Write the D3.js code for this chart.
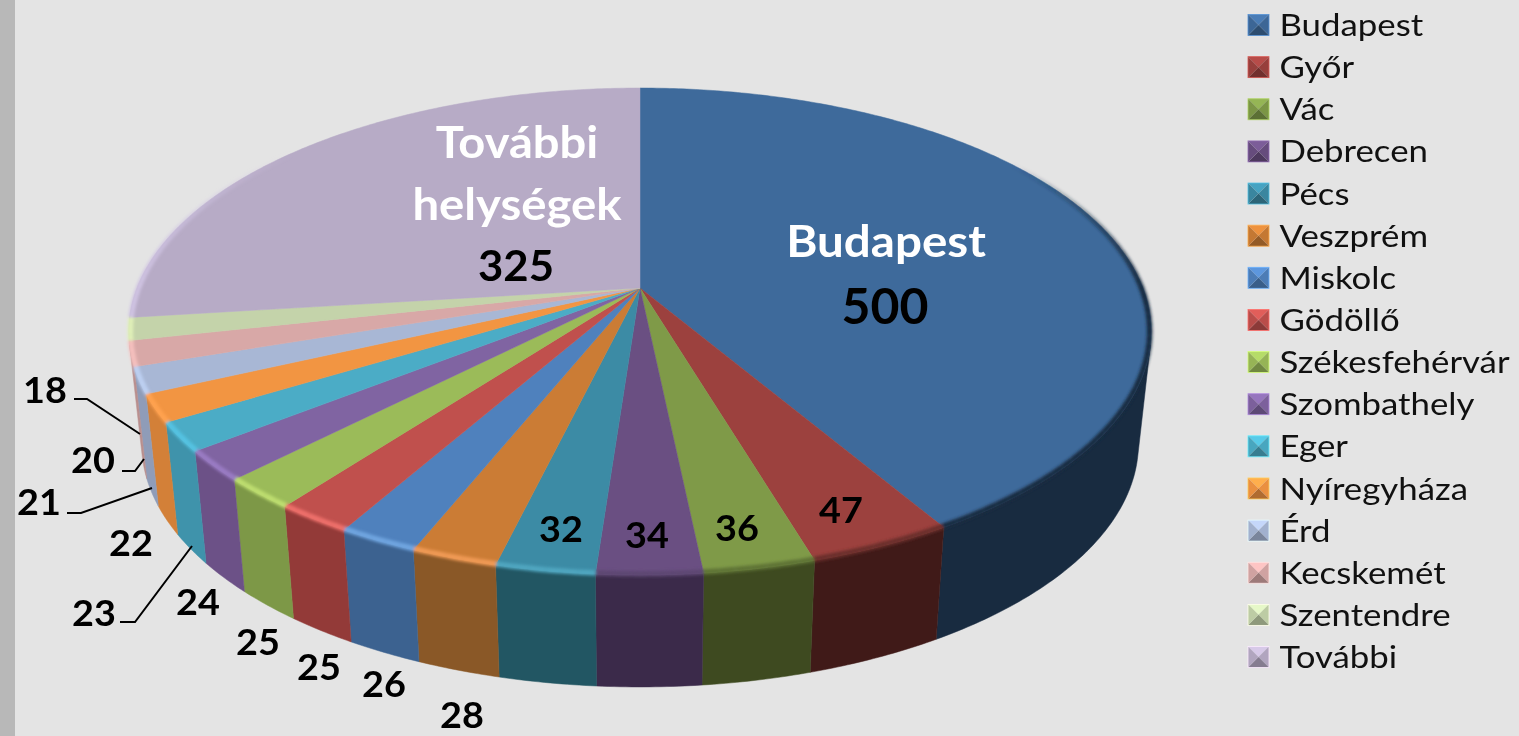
<!DOCTYPE html>
<html><head><meta charset="utf-8"><script src="https://cdn.jsdelivr.net/npm/d3@7/dist/d3.min.js"></script>
<style>html,body{margin:0;padding:0;background:#e4e4e4;overflow:hidden}svg{display:block;filter:blur(.5px)}text{font-family:Lato,sans-serif}</style></head>
<body><svg id="c" width="1519" height="736"></svg>
<script>
const categories=["Budapest","Győr","Vác","Debrecen","Pécs","Veszprém","Miskolc","Gödöllő","Székesfehérvár","Szombathely","Eger","Nyíregyháza","Érd","Kecskemét","Szentendre","További"];
const values=[500,47,36,34,32,28,26,25,25,24,23,22,21,20,18,325];
const topColors=["#3e6a9b","#9c413e","#7f9a48","#6a4f82","#3c8ba5","#cb7c35","#4f81bd","#c0504d","#9bbb59","#8064a2","#4bacc6","#f29542","#a8b7d5","#d8a8a7","#c4d3aa","#b7abc6"];
const wallColors=["#182b40","#401a18","#3e4a20","#3b2a4a","#225663","#8a5827","#3c6290","#933a38","#7d9847","#6c5187","#3f93ab","#d38038","#8f9cb8","#b98f8e","#a8b592","#9d92ab"];
const rimColors=["#182b40","#6a2d2b","#5f7336","#5d4672","#4fa6c0","#f09a55","#6fa5e0","#ee6f6b","#bede70","#9a7cc4","#55c3e2","#ffa24f","#bdd0f2","#f5c0be","#e0f0b8","#cfc3e2"];
// layout of hand-placed labels, as in the reference
const smallLabelPos=[[841,509],[737,527],[647,534],[561,528],[462,714],[384,683],[319,666],[258,641],[198,601],[94,612],[131,542],[39,501],[93,459],[45,389]];
const leaders=[[[74,399],[87,399],[140,434]],[[122,471],[135,471],[144,459]],[[67,513],[81,513],[152,488]],[[120,622],[135,622],[192,546]]];

const svg=d3.select("#c");
svg.append("rect").attr("width",1519).attr("height",736).attr("fill","#e4e4e4");
svg.append("rect").attr("width",15).attr("height",736).attr("fill","#b8b8b8");
const defs=svg.append("defs");
defs.append("filter").attr("id","soft").attr("x","-5%").attr("y","-5%").attr("width","110%").attr("height","110%").append("feGaussianBlur").attr("stdDeviation",1.5);

const cx=640,cy=288,k=0.1786,ay=235.7,bx=503,depth=112,shrink=0.975;
function proj(t,r){const u=r*Math.sin(t),v=-r*Math.cos(t),w=1-k*v;return [cx+bx*u/w,cy+ay*v/w];}
function low(t){const p=proj(t,1);return [cx+(p[0]-cx)*shrink,p[1]+depth];}
const arcs=d3.pie().sort(null).value(d=>d)(values);
const line=d3.line();
function sample(a,b,st){const n=Math.max(2,Math.ceil((b-a)/(st||0.01)));return d3.range(n+1).map(i=>a+(b-a)*i/n);}

// the wall is only seen between the two silhouette angles, where the extrusion leaves the rim outwards
function facing(t){const e=1e-3,p=proj(t-e,1),q=proj(t+e,1),l=low(t),c=proj(t,1);
  return (q[0]-p[0])*(l[1]-c[1])-(q[1]-p[1])*(l[0]-c[0])<0;}
const angles=d3.range(0,2*Math.PI,0.002).filter(facing);
const seenFrom=d3.min(angles),seenTo=d3.max(angles);
const order=d3.range(arcs.length).filter(i=>arcs[i].endAngle>seenFrom&&arcs[i].startAngle<seenTo);
svg.append("g").selectAll("path").data(order).join("path")
  .attr("fill",i=>wallColors[i]).attr("stroke",i=>wallColors[i]).attr("stroke-width",.5)
  .attr("d",i=>{const ts=sample(Math.max(arcs[i].startAngle,seenFrom),Math.min(arcs[i].endAngle,seenTo));
    return line(ts.map(t=>proj(t,1)).concat(ts.slice().reverse().map(low)))+"Z";});
// top faces
svg.append("g").selectAll("path").data(arcs).join("path")
  .attr("fill",(d,i)=>topColors[i]).attr("stroke",(d,i)=>topColors[i]).attr("stroke-width",.5)
  .attr("d",d=>{const ts=sample(d.startAngle,d.endAngle);
    return line([proj(0,0)].concat(ts.map(t=>proj(t,1))))+"Z";});
// bevelled rim, strongest along the front of the disc
const deg=Math.PI/180;
const rimFade=d3.scaleLinear().domain([55*deg,90*deg,270*deg,310*deg]).range([0,1,1,0]).clamp(true);
const rimSegs=arcs.flatMap((d,i)=>d3.pairs(sample(d.startAngle,d.endAngle,0.03)).map(([a,b])=>({a,b,i})));
svg.append("g").attr("filter","url(#soft)").selectAll("path").data(rimSegs).join("path")
  .attr("fill","none").attr("stroke",d=>rimColors[d.i]).attr("stroke-width",5.5)
  .attr("stroke-opacity",d=>rimFade((d.a+d.b)/2))
  .attr("d",d=>line([d.a,(d.a+d.b)/2,d.b].map(t=>proj(t,0.997))));

// labels: the reference is stretched horizontally, so each text carries an x scale
function lab(x,y,t,size,fill,sx){svg.append("text").attr("transform",`translate(${x},${y}) scale(${sx},1)`).attr("text-anchor","middle").attr("dominant-baseline","central")
  .attr("font-weight",700).attr("font-size",size).attr("fill",fill).text(t);}
lab(886,240,"Budapest",44,"#fff",1.08);
lab(885,305,String(values[0]),50,"#000",1);
lab(517,142,"További",43,"#fff",1.095);
lab(517,203,"helységek",43,"#fff",1.1);
lab(516,265,String(values[15]),42,"#000",1.04);
smallLabelPos.forEach((p,i)=>lab(p[0],p[1],String(values[i+1]),36,"#000",1.05));
svg.append("g").selectAll("path").data(leaders).join("path").attr("fill","none").attr("stroke","#000").attr("stroke-width",2).attr("d",d=>line(d));

// legend
const legendY=d3.scalePoint().domain(categories).range([25,657]);
const lg=svg.append("g").selectAll("g").data(categories).join("g").attr("transform",d=>`translate(1248,${legendY(d)-10.5})`);
const s=21,m=10.5;
const faces=[[[0,0],[s,0],[m,m]],[[s,0],[s,s],[m,m]],[[s,s],[0,s],[m,m]],[[0,s],[0,0],[m,m]]];
faces.forEach((f,j)=>{
  lg.append("path").attr("d",line(f)+"Z").attr("fill",(d,i)=>{
    const c=d3.color(topColors[i]);
    return j==0?c.brighter(.45):j==2?c.darker(.9):c.darker(.1);});
});
lg.append("rect").attr("width",s).attr("height",s).attr("fill","none").attr("stroke",(d,i)=>d3.color(topColors[i]).brighter(.9)).attr("stroke-width",.8);
lg.append("text").attr("transform","translate(31.5,10) scale(1.16,1)").attr("dominant-baseline","central").attr("font-size",30).attr("fill","#111").text(d=>d);
</script></body></html>
